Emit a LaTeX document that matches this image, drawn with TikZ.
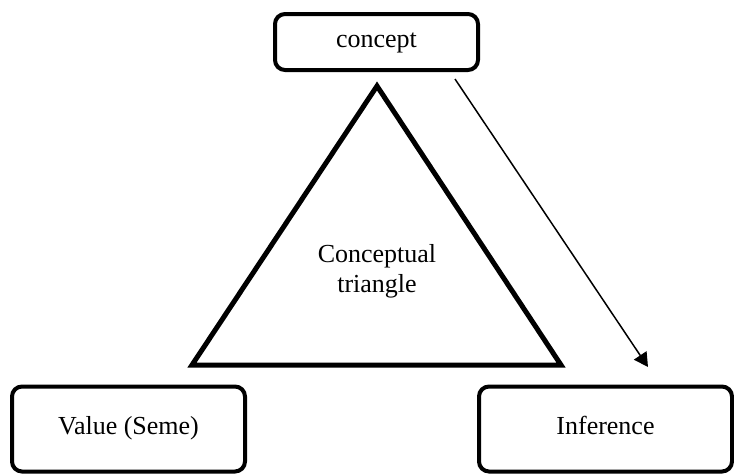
\documentclass[tikz,border=0pt]{standalone}
\usepackage{fontspec}
\setmainfont{Liberation Serif}
\usetikzlibrary{arrows.meta}

\tikzset{
  box/.style={rectangle, draw, rounded corners=5pt, line width=2pt, align=center, text height=1.6ex, text depth=.4ex, font=\fontsize{13}{15}\selectfont},
}

\begin{document}
\begin{tikzpicture}[x=0.5pt, y=-0.5pt]
    \useasboundingbox (0, 0) rectangle (734, 473);

    % ボックス
    \node[box, minimum width=101.5pt, minimum height=28pt] (concept) at (376.5, 42) {concept};
    \node[box, minimum width=116.5pt, minimum height=42.5pt] (value) at (128.5, 429) {Value (Seme)};
    \node[box, minimum width=126.5pt, minimum height=42.5pt] (inference) at (605.5, 429) {Inference};

    % 三角形
    \coordinate (top) at (377, 86);
    \coordinate (left) at (192, 365);
    \coordinate (right) at (561, 365);
    \draw[line width=2.5pt] (top) -- (left) -- (right) -- cycle;
    \node[align=center, font=\fontsize{13}{15}\selectfont] (tri) at (377, 271) {Conceptual\\triangle};

    % 矢印
    \coordinate (arrS) at (455, 79);
    \coordinate (arrE) at (648, 367);
    \draw[line width=0.75pt, -{Triangle[length=7pt, width=7.5pt]}] (arrS) -- (arrE);
  \end{tikzpicture}
\end{document}
